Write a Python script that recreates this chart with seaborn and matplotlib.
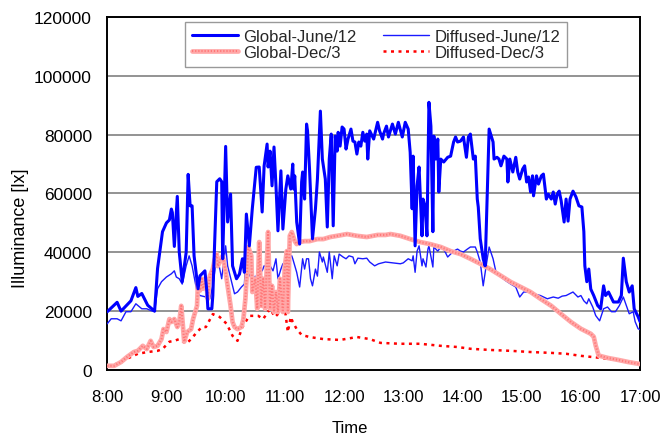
import numpy as np
import pandas as pd
import matplotlib
matplotlib.use("Agg")
import matplotlib.pyplot as plt
import seaborn as sns

# Minutes after 8:00 and illuminance [lx] for each measured series
gj_min = [0, 10, 14, 24, 29, 31, 35, 41, 48, 51, 56, 60, 63, 65, 66, 68, 71, 73, 76, 80,
          82, 84, 86, 88, 92, 94, 99, 101, 102, 106, 107, 111, 114, 116, 117, 120, 122, 125, 127, 131,
          134, 137, 139, 141, 144, 147, 151, 154, 157, 159, 162, 163, 165, 167, 169, 171, 173, 176, 178, 181,
          183, 186, 188, 189, 190, 192, 195, 197, 198, 200, 202, 203, 205, 208, 211, 213, 216, 218, 219, 221,
          223, 225, 227, 229, 231, 233, 234, 236, 238, 240, 242, 244, 247, 249, 251, 253, 255, 257, 259, 261,
          263, 264, 266, 270, 272, 274, 276, 279, 280, 283, 285, 289, 292, 295, 299, 302, 305, 307, 309, 310,
          312, 314, 316, 319, 320, 322, 324, 326, 328, 330, 331, 333, 335, 336, 338, 341, 345, 348, 351, 353,
          355, 358, 361, 364, 366, 368, 371, 373, 375, 376, 378, 381, 383, 385, 387, 391, 392, 395, 397, 399,
          402, 405, 406, 408, 411, 414, 416, 418, 421, 423, 425, 427, 429, 431, 432, 435, 437, 440, 442, 445,
          447, 450, 452, 454, 456, 458, 460, 463, 465, 467, 469, 472, 475, 478, 481, 483, 484, 486, 488, 490,
          493, 497, 500, 503, 505, 508, 513, 518, 521, 523, 526, 529, 532, 534, 538, 540]
gj_lux = [19800, 23000, 20000, 23500, 28000, 25000, 26000, 22000, 20000, 34500, 47000, 50000, 51000, 54700, 53500, 42000, 59000, 40000, 30000, 40000,
          66500, 55800, 55800, 38800, 27600, 32000, 33700, 26500, 20800, 20800, 25300, 64000, 65000, 64000, 37800, 76000, 50300, 59800, 35400, 31000,
          32600, 37800, 33200, 53000, 42200, 54800, 68900, 69000, 53700, 69400, 76800, 69000, 74400, 62600, 75800, 62600, 47300, 67700, 47900, 61500,
          66000, 61500, 70000, 61500, 66000, 50300, 42800, 63900, 67300, 58100, 83600, 81300, 68300, 44600, 54800, 64900, 88000, 71700, 69400, 64900,
          48600, 71700, 80200, 49000, 79500, 74400, 80800, 76100, 82600, 81900, 75100, 78500, 81900, 77800, 77500, 73400, 77500, 76100, 80800, 77800,
          80200, 71700, 81300, 78500, 81300, 84200, 81300, 78500, 80200, 82900, 79200, 83600, 80200, 84200, 79200, 84200, 81900, 74000, 54800, 72700,
          42200, 62600, 69000, 45600, 58100, 55800, 45600, 91000, 82900, 47000, 79500, 71700, 78500, 60500, 71700, 70700, 72300, 72700, 77500, 79200,
          77500, 77800, 79200, 72300, 79200, 80200, 71700, 72700, 58100, 55400, 44600, 37800, 35400, 58100, 81900, 77500, 71700, 72300, 71700, 69400,
          72700, 71700, 63900, 71700, 67300, 72300, 67300, 64900, 68300, 69400, 63900, 65600, 60500, 66000, 59200, 66000, 63200, 66000, 66600, 58100,
          59800, 58100, 60500, 56400, 59800, 60800, 57500, 50300, 58100, 50600, 58100, 60800, 58800, 55800, 55400, 47000, 35400, 30000, 34300, 27500,
          25300, 21900, 20800, 28600, 25300, 26500, 23100, 23100, 25300, 38000, 30000, 26500, 28600, 20800, 18100, 16400]

dj_min = [0, 4, 10, 14, 19, 24, 29, 35, 40, 45, 48, 51, 55, 60, 65, 68, 70, 73, 76, 80,
          83, 86, 91, 94, 99, 104, 107, 110, 112, 116, 120, 122, 126, 129, 132, 136, 139, 141, 143, 146,
          150, 153, 157, 159, 162, 165, 168, 171, 173, 176, 178, 181, 183, 187, 188, 192, 195, 198, 200, 202,
          204, 206, 208, 211, 213, 215, 218, 219, 223, 225, 228, 230, 233, 235, 239, 242, 245, 249, 251, 254,
          259, 263, 266, 271, 275, 282, 290, 297, 300, 305, 309, 310, 312, 314, 316, 319, 320, 323, 325, 326,
          330, 331, 335, 338, 341, 345, 348, 351, 355, 358, 361, 365, 368, 373, 375, 378, 381, 384, 387, 391,
          394, 399, 404, 409, 414, 418, 422, 426, 432, 439, 446, 452, 457, 461, 465, 472, 477, 480, 483, 486,
          488, 492, 495, 499, 503, 507, 511, 515, 519, 523, 526, 529, 533, 535, 538, 540]
dj_lux = [15700, 17400, 17400, 16700, 19800, 19800, 22500, 20800, 20800, 20100, 19800, 27600, 30000, 31600, 32700, 33700, 31600, 31000, 29200, 35400,
          38800, 35400, 26500, 25300, 24900, 24200, 28600, 36100, 37800, 31000, 42200, 35400, 30000, 25900, 26500, 28200, 29200, 41100, 31600, 33200,
          31000, 33700, 33700, 35400, 35000, 35400, 33700, 37800, 31000, 34300, 36100, 35400, 38400, 38800, 37800, 33200, 28200, 37800, 34300, 37800,
          37800, 31000, 28600, 34300, 31900, 40100, 36700, 38400, 33200, 40100, 31000, 38800, 35400, 39400, 38400, 37800, 38800, 38400, 36100, 38000,
          37800, 38000, 36700, 35400, 36100, 36700, 36400, 36100, 36400, 37800, 37100, 38800, 33200, 40400, 42200, 35400, 37800, 35000, 41100, 42200,
          35000, 41800, 40400, 41800, 41100, 38400, 39400, 40400, 41100, 40400, 40100, 41100, 41800, 41800, 40100, 36700, 28600, 35400, 41800, 37800,
          33200, 31600, 30300, 29200, 28200, 24800, 26500, 26500, 25900, 25300, 24200, 24800, 24400, 25100, 25300, 26500, 24800, 25300, 23500, 22500,
          24200, 21400, 18500, 16700, 20800, 21400, 19800, 19800, 21900, 24800, 21900, 19100, 19800, 16400, 14000, 13700]

gd_min = [0, 7, 14, 20, 27, 31, 36, 40, 44, 47, 51, 55, 57, 60, 63, 65, 68, 71, 73, 75,
          78, 81, 85, 87, 91, 92, 94, 96, 97, 100, 102, 104, 107, 109, 111, 112, 115, 117, 120, 122,
          125, 127, 129, 132, 136, 138, 140, 142, 143, 146, 147, 150, 152, 154, 156, 158, 160, 162, 163, 165,
          167, 169, 171, 173, 175, 178, 180, 182, 183, 185, 187, 190, 192, 195, 200, 205, 213, 219, 226, 233,
          243, 253, 263, 274, 282, 287, 297, 307, 317, 327, 338, 348, 358, 368, 378, 388, 399, 409, 419, 429,
          439, 450, 460, 470, 480, 490, 493, 495, 498, 507, 518, 528, 540]
gd_lux = [1400, 1400, 2700, 4400, 6100, 6500, 8200, 7100, 9900, 7800, 8200, 10500, 13900, 12900, 17300, 16300, 17300, 14600, 16300, 21800,
          9600, 12900, 13900, 17300, 21800, 29900, 27000, 31000, 27600, 31000, 24200, 32000, 34300, 37700, 39400, 35300, 37700, 38800, 33300, 28600,
          21800, 16300, 14600, 13900, 14600, 17300, 24200, 35300, 41800, 38800, 26500, 31000, 20800, 43500, 21800, 31000, 20800, 37700, 46900, 20800,
          28600, 19700, 26500, 19700, 31000, 19700, 35300, 40400, 19700, 45600, 46900, 43800, 42800, 43500, 43800, 43800, 44500, 44500, 45200, 45600,
          46200, 45600, 45200, 45900, 45900, 46200, 45600, 44500, 43500, 42800, 41800, 40400, 39400, 37800, 36100, 34300, 32000, 29900, 28200, 26500,
          24200, 21800, 19000, 16300, 14000, 12300, 11300, 8300, 4900, 4100, 3400, 2700, 2000]

dd_min = [0, 10, 20, 31, 41, 51, 56, 63, 68, 73, 80, 85, 91, 96, 100, 107, 114, 121, 127, 132,
          137, 144, 153, 158, 165, 170, 175, 180, 183, 186, 188, 192, 197, 205, 219, 236, 253, 266, 277, 297,
          317, 338, 355, 368, 388, 409, 429, 450, 465, 480, 500, 521, 540]
dd_lux = [1400, 2100, 3800, 5500, 6100, 6500, 7100, 9600, 9900, 10500, 8900, 10500, 12900, 14600, 14600, 19000, 18000, 15700, 11600, 9900,
          14600, 18400, 18400, 17300, 20800, 18000, 19700, 20800, 12900, 18000, 16300, 13900, 11900, 11200, 10500, 10200, 11200, 10500, 9200, 8900,
          8900, 8200, 7800, 7200, 6800, 6500, 6100, 5800, 5500, 4800, 4100, 3100, 1800]

hour_ticks = list(range(8, 18))
hour_labels = [f"{h}:00" for h in hour_ticks]
lux_ticks = list(range(0, 120001, 20000))


def frame(minutes, lux):
    return pd.DataFrame({"hour": 8 + np.asarray(minutes) / 60.0, "lux": lux})


sns.set_theme(style="white")
plt.rcParams["font.family"] = ["Liberation Sans", "DejaVu Sans"]

fig = plt.figure(figsize=(6.64, 4.39), dpi=100)
ax = fig.add_axes([0.1615, 0.155, 0.8025, 0.804])

kw = dict(x="hour", y="lux", sort=False, estimator=None, ax=ax)

sns.lineplot(data=frame(dj_min, dj_lux), color="#1a1aff", lw=1.0, zorder=3, **kw)
sns.lineplot(data=frame(dd_min, dd_lux), color="#ff0000", lw=1.8,
             linestyle=(0, (1.2, 1.8)), zorder=3, **kw)
sns.lineplot(data=frame(gd_min, gd_lux), color="#ffa8a8", lw=3.4, zorder=4, **kw)
sns.lineplot(data=frame(gd_min, gd_lux), color="#ff4a4a", lw=1.5, alpha=0.5,
             linestyle=(0, (0.6, 0.9)), zorder=4, **kw)
sns.lineplot(data=frame(gj_min, gj_lux), color="#0000ff", lw=2.2, zorder=5, **kw)

lines = ax.get_lines()
h_dj, h_dd, h_gd, h_gd2, h_gj = lines[:5]

ax.set_xlim(8, 17)
ax.set_ylim(0, 120000)
ax.set_xticks(hour_ticks)
ax.set_xticklabels(hour_labels)
ax.set_yticks(lux_ticks)
ax.set_yticklabels([str(v) for v in lux_ticks])
ax.yaxis.grid(True, color="#808080", lw=1.2)
ax.xaxis.grid(False)
ax.set_axisbelow(True)

for s in ax.spines.values():
    s.set_color("black")
    s.set_linewidth(1.4)

ax.tick_params(axis="both", direction="in", length=5, width=1.2, color="black",
               labelsize=12, labelcolor="black")
ax.tick_params(axis="x", pad=14)
ax.tick_params(axis="y", pad=11, labelsize=12.5)
ax.set_xlabel("Time", fontsize=12, color="black")
ax.set_ylabel("Illuminance [lx]", fontsize=13, color="black")
ax.xaxis.set_label_coords(0.456, -0.164, transform=ax.transAxes)
ax.yaxis.set_label_coords(-0.163, 0.405, transform=ax.transAxes)
ax.xaxis.label.set_va("center")
ax.yaxis.label.set_va("center")

leg = ax.legend([h_gj, (h_gd, h_gd2), h_dj, h_dd],
                ["Global-June/12", "Global-Dec/3", "Diffused-June/12", "Diffused-Dec/3"],
                ncol=2, loc="upper left", bbox_to_anchor=(0.146, 0.986),
                borderaxespad=0, fontsize=12, frameon=True, fancybox=False,
                framealpha=1, edgecolor="#999999", handlelength=2.8,
                labelspacing=0.1, columnspacing=1.55, handletextpad=0.3,
                borderpad=0.4)
leg.get_frame().set_linewidth(1.0)

fig.savefig("out.png", dpi=100)
